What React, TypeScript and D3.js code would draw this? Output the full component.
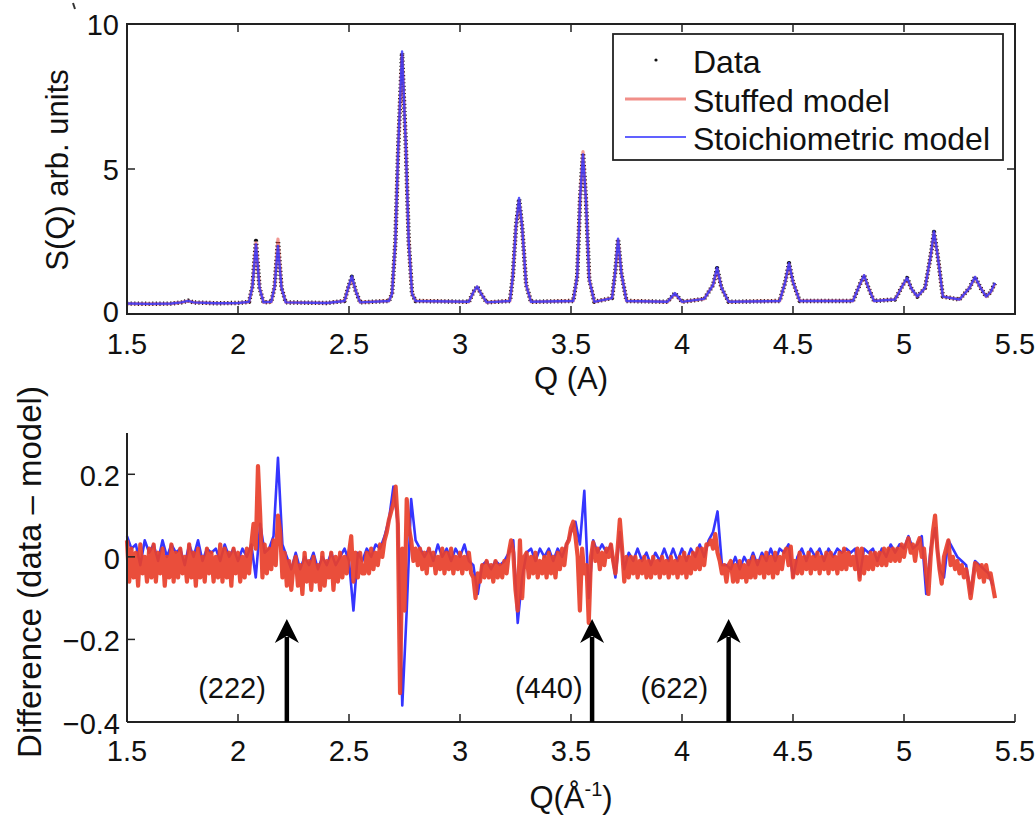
import React from 'react';
import * as d3 from 'd3';

// ---------- Top panel data: S(Q) ----------
const topQ = [
  1.50,1.60,1.70,1.745,1.775,1.80,1.90,2.00,2.05,2.065,
  2.081,2.097,2.115,2.15,2.165,2.18,2.196,2.215,2.40,2.48,
  2.498,2.513,2.53,2.55,2.68,2.694,2.709,2.722,2.739,2.756,
  2.769,2.784,2.80,3.04,3.062,3.077,3.095,3.12,3.225,3.238,
  3.252,3.266,3.28,3.298,3.32,3.51,3.528,3.541,3.554,3.567,
  3.582,3.605,3.685,3.70,3.712,3.727,3.75,3.935,3.968,4.00,
  4.10,4.14,4.158,4.178,4.21,4.44,4.465,4.482,4.50,4.53,
  4.77,4.80,4.82,4.84,4.865,4.96,4.995,5.014,5.035,5.06,
  5.095,5.12,5.135,5.152,5.175,5.25,5.295,5.32,5.345,5.37,
  5.39,5.41,
];
const dataS = [
  .36,.35,.36,.40,.46,.40,.37,.38,.42,.95,
  2.52,.90,.40,.42,.95,2.52,.90,.40,.38,.45,
  .95,1.28,.80,.40,.45,.70,2.5,5.8,9.0,5.8,
  2.5,.70,.45,.42,.78,.95,.70,.40,.45,1.3,
  3.0,3.97,3.0,1.0,.42,.45,1.3,4.0,5.55,4.0,
  1.2,.42,.55,1.5,2.58,1.4,.45,.42,.72,.42,
  .52,1.0,1.58,.90,.42,.45,1.1,1.75,1.1,.45,
  .45,1.0,1.34,.90,.45,.50,1.0,1.24,.85,.60,
  .90,2.0,2.83,2.0,.60,.50,.90,1.28,.90,.60,
  .75,1.07,
];
const stuffedS = [
  .36,.35,.36,.40,.45,.40,.37,.38,.42,.95,
  2.45,.90,.40,.42,.95,2.58,.90,.40,.38,.45,
  .95,1.25,.80,.40,.45,.70,2.5,5.8,8.95,5.8,
  2.5,.70,.45,.42,.78,.93,.70,.40,.45,1.3,
  3.0,3.90,3.0,1.0,.42,.45,1.3,4.0,5.60,4.0,
  1.2,.42,.55,1.5,2.55,1.4,.45,.42,.70,.42,
  .52,1.0,1.55,.90,.42,.45,1.1,1.72,1.1,.45,
  .45,1.0,1.32,.90,.45,.50,1.0,1.22,.85,.60,
  .90,2.0,2.80,2.0,.60,.50,.90,1.26,.90,.60,
  .75,1.05,
];
const stoichS = [
  .36,.35,.36,.40,.45,.40,.37,.38,.42,.95,
  2.40,.90,.40,.42,.95,2.35,.90,.40,.38,.45,
  .95,1.30,.80,.40,.45,.70,2.5,5.8,9.05,5.8,
  2.5,.70,.45,.42,.78,.95,.70,.40,.45,1.3,
  3.0,4.00,3.0,1.0,.42,.45,1.3,4.0,5.50,4.0,
  1.2,.42,.55,1.5,2.60,1.4,.45,.42,.72,.42,
  .52,1.0,1.60,.90,.42,.45,1.1,1.76,1.1,.45,
  .45,1.0,1.34,.90,.45,.50,1.0,1.25,.85,.60,
  .90,2.0,2.85,2.0,.60,.50,.90,1.28,.90,.60,
  .75,1.08,
];

// ---------- Bottom panel data: difference (data - model) ----------
const diffQStart = 1.5;
// Stuffed model difference, every 0.01 from Q = 1.50 to 5.41
const redStep = 0.01;
const redDiff = [
  // 1.50 - 2.05
  .04,-.06,.02,-.05,.01,-.07,.03,-.04,.00,-.06,
  .02,-.05,.03,-.06,.01,-.04,.02,-.07,.00,-.05,
  .03,-.06,.01,-.05,.02,-.04,.00,-.06,.03,-.05,
  .01,-.07,.02,-.05,.00,-.06,.02,-.04,.01,-.06,
  .00,-.05,.03,-.06,.02,-.05,.01,-.07,.02,-.04,
  .01,-.06,.00,-.05,.02,-.04,
  // 2.06 - 2.25
  .03,.08,.02,.22,.10,-.05,.03,-.04,.02,-.03,.04,-.02,.10,.06,-.05,.01,-.07,-.01,-.08,-.02,
  // 2.26 - 2.48
  .00,-.07,-.02,-.09,.01,-.06,-.01,-.08,.00,-.06,
  -.02,-.08,.01,-.07,-.01,-.05,.01,-.08,.00,-.06,
  .01,-.05,.00,
  // 2.49 - 2.56
  -.04,.01,.05,-.06,.01,-.05,.01,-.04,
  // 2.57 - 2.66
  -.04,.01,-.04,.02,-.03,.01,-.02,.03,.00,.04,
  // 2.67 - 2.81
  .06,.09,.11,.13,.17,.08,-.33,.02,-.13,.14,.07,.04,-.01,.02,-.02,
  // 2.82 - 3.05
  .02,-.03,.01,-.04,.02,-.02,.01,-.04,.00,-.03,
  .02,-.04,.01,-.03,.02,-.04,.00,-.03,.01,-.04,
  .00,-.03,.01,-.04,
  // 3.06 - 3.08
  -.05,-.10,-.04,
  // 3.09 - 3.21
  -.06,-.02,-.05,-.01,-.05,-.02,-.06,-.01,-.05,-.02,-.05,-.01,-.04,
  // 3.22 - 3.29
  .01,.04,.01,-.08,-.13,.04,-.10,.00,
  // 3.30 - 3.48
  .01,-.05,.00,-.04,.01,-.05,-.01,-.04,.00,-.05,
  .01,-.04,.00,-.05,.01,-.03,.02,-.02,.03,
  // 3.49 - 3.62
  .04,.07,.085,.05,.00,-.13,.02,-.04,-.02,-.16,.00,.035,-.01,.02,
  // 3.63 - 3.76
  -.03,.01,-.02,.02,.00,.03,-.01,-.04,.02,.09,.02,-.06,.00,-.05,
  // 3.77 - 4.11
  .00,-.04,.00,-.05,-.01,-.04,.00,-.05,-.01,-.05,
  .00,-.04,-.01,-.05,.00,-.04,-.01,-.05,.00,-.04,
  -.01,-.05,.00,-.04,.01,-.05,.00,-.04,.01,-.03,
  .02,-.03,.02,-.02,.03,
  // 4.12 - 4.20
  .03,.04,.02,.055,.01,-.01,-.04,-.02,-.06,
  // 4.21 - 4.46
  -.02,-.01,-.06,-.02,-.06,-.01,-.05,-.02,-.06,-.01,
  -.05,.00,-.05,-.01,-.04,.00,-.05,.01,-.04,.00,
  -.05,.01,-.04,.00,-.03,.01,
  // 4.47 - 4.52
  .02,-.02,.025,-.05,-.01,-.04,
  // 4.53 - 4.77
  .01,-.04,.00,-.03,.01,-.04,.00,-.03,.01,-.04,
  .00,-.03,.01,-.04,.01,-.03,.00,-.04,.01,-.03,
  .02,-.03,.01,-.02,.00,
  // 4.78 - 4.83
  -.03,.02,-.055,.02,-.04,.00,
  // 4.84 - 5.00
  -.03,.01,-.03,.01,-.02,.01,-.02,.02,-.02,.02,
  -.01,.02,-.01,.02,-.01,.03,.00,
  // 5.01 - 5.41
  .03,.045,.01,.03,-.01,.03,.045,.00,.02,-.04,
  -.09,.00,.06,.10,.02,-.03,-.065,.00,.02,.04,
  -.02,.00,-.03,-.01,-.04,-.02,-.05,-.03,-.06,-.10,
  -.06,-.015,-.02,-.05,-.02,-.06,-.02,-.05,-.04,-.07,
  -.10,
];
// Stoichiometric model difference, every 0.02 from Q = 1.50 to 5.40
const blueStep = 0.02;
const blueDiff = [
  .05,.02,.03,-.02,.04,.01,.03,-.01,.04,.00,
  .03,.01,.02,-.02,.03,.00,.04,-.01,.02,.01,
  .02,-.01,.03,.00,.02,-.01,.02,.00,.03,
  -.05,.08,.01,.02,.05,.24,.03,
  .00,-.03,.01,-.03,.00,-.02,.01,-.03,.00,-.02,.01,-.02,.00,.02,-.01,
  -.13,.01,
  -.01,.02,.00,.03,.02,.05,.09,
  .17,.08,-.36,-.13,.14,.04,
  .02,.00,.02,-.01,.03,.00,.02,-.01,.02,.00,.03,-.01,-.02,
  -.09,
  -.02,-.01,-.03,-.01,-.02,-.01,.01,
  .04,-.16,-.05,.01,
  .02,-.01,.02,.00,.02,-.01,.02,.00,.03,
  .06,.085,.03,.16,-.10,.04,
  .01,.03,.01,.03,
  -.05,.06,-.03,
  .01,-.01,.02,-.01,.01,-.02,.01,-.01,.02,-.01,.02,-.01,.02,-.01,.02,.00,.03,.00,.04,
  .06,.11,-.02,-.02,
  -.03,.00,-.03,.00,-.02,.01,-.02,.01,-.01,.02,-.01,.02,.01,
  .03,-.05,
  .00,.02,-.01,.02,.00,.02,-.01,.02,.00,.02,.01,.02,.01,.02,
  -.05,.02,
  .01,.02,-.01,.02,.00,.03,.01,.03,.02,
  .05,.02,.03,.05,-.09,.02,.07,-.03,-.05,.04,
  .02,.00,-.01,-.02,-.09,-.01,-.02,-.03,-.04,-.07,
];

// ---------- Annotations ----------
const arrowQ = [2.22, 3.595, 4.21];
const arrowLabels = ['(222)', '(440)', '(622)'];
const arrowLabelQ = [1.973, 3.40, 3.965];

// ---------- Axes ----------
const xTicks = [1.5, 2, 2.5, 3, 3.5, 4, 4.5, 5, 5.5];
const xTickLabels = ['1.5', '2', '2.5', '3', '3.5', '4', '4.5', '5', '5.5'];
const yTopTicks = [0, 5, 10];
const yBotTicks = [0.2, 0, -0.2, -0.4];
const yBotTickLabels = ['0.2', '0', '\u22120.2', '\u22120.4'];

const legendItems = ['Data', 'Stuffed model', 'Stoichiometric model'];

const FONT = '"Liberation Sans", Arial, Helvetica, sans-serif';

export default function App() {
  const x = d3.scaleLinear().domain([1.5, 5.5]).range([127, 1015]);
  const yT = d3.scaleLinear().domain([0, 10]).range([314, 24]);
  const yB = d3.scaleLinear().domain([-0.4, 0.3]).range([722, 433]);

  const topLine = (vals: number[]) =>
    d3.line<number>().x((_, i) => x(topQ[i])).y((d) => yT(d))(vals) || '';
  const diffLine = (vals: number[], step: number) =>
    d3.line<number>().x((_, i) => x(diffQStart + i * step)).y((d) => yB(d))(vals) || '';

  const axisColor = '#222';
  const tickLen = 8;

  return (
    <svg width={1036} height={818} style={{ position: 'absolute', left: 0, top: 0, background: '#fff' }} fontFamily={FONT}>
      <rect x={0} y={0} width={1036} height={818} fill="#fff" />
      <line x1={73} y1={3} x2={75} y2={9} stroke="#333" strokeWidth={2} />

      {/* ============ TOP PANEL ============ */}
      <g>
        <path d={topLine(dataS)} fill="none" stroke="#111" strokeWidth={4.4} strokeDasharray="1.2 2.4" strokeLinejoin="round" />
        <path d={topLine(stuffedS)} fill="none" stroke="#e8443a" strokeWidth={3.2} strokeOpacity={0.55} strokeLinejoin="round" />
        <path d={topLine(stoichS)} fill="none" stroke="#3a3aff" strokeWidth={2.4} strokeOpacity={0.85} strokeLinejoin="round" />
        <rect x={x(1.5)} y={yT(10)} width={x(5.5) - x(1.5)} height={yT(0) - yT(10)} fill="none" stroke={axisColor} strokeWidth={2} />
        {xTicks.map((t, i) => (
          <g key={'xt' + i}>
            <line x1={x(t)} x2={x(t)} y1={yT(0)} y2={yT(0) - tickLen} stroke={axisColor} strokeWidth={1.5} />
            <line x1={x(t)} x2={x(t)} y1={yT(10)} y2={yT(10) + tickLen} stroke={axisColor} strokeWidth={1.5} />
            <text x={x(t)} y={yT(0) + 40} textAnchor="middle" fontSize={29} fill="#111">{xTickLabels[i]}</text>
          </g>
        ))}
        {yTopTicks.map((t, i) => (
          <g key={'yt' + i}>
            <line x1={x(1.5)} x2={x(1.5) + tickLen} y1={yT(t)} y2={yT(t)} stroke={axisColor} strokeWidth={1.5} />
            <line x1={x(5.5)} x2={x(5.5) - tickLen} y1={yT(t)} y2={yT(t)} stroke={axisColor} strokeWidth={1.5} />
            <text x={119} y={yT(t) + (t === 0 ? 8 : 11)} textAnchor="end" fontSize={29} fill="#111">{String(t)}</text>
          </g>
        ))}
        <text transform={`translate(68,170) rotate(-90)`} textAnchor="middle" fontSize={31} fill="#111">S(Q) arb. units</text>
        <text x={571} y={389} textAnchor="middle" fontSize={31} fill="#111">Q (A)</text>

        {/* legend */}
        <rect x={613} y={34} width={390} height={126} fill="#fff" stroke={axisColor} strokeWidth={1.8} />
        <circle cx={656} cy={60} r={1.6} fill="#111" />
        <line x1={625} x2={686} y1={99} y2={99} stroke="#e8443a" strokeOpacity={0.6} strokeWidth={3.2} />
        <line x1={625} x2={686} y1={137} y2={137} stroke="#3a3aff" strokeOpacity={0.8} strokeWidth={2} />
        {legendItems.map((s, i) => (
          <text key={'lg' + i} x={693} y={73 + i * 38.5} fontSize={32} fill="#111">{s}</text>
        ))}
      </g>

      {/* ============ BOTTOM PANEL ============ */}
      <g>
        <path d={diffLine(blueDiff, blueStep)} fill="none" stroke="#3535ff" strokeWidth={2.6} strokeLinejoin="round" />
        <path d={diffLine(redDiff, redStep)} fill="none" stroke="#e8412c" strokeWidth={4.2} strokeOpacity={0.93} strokeLinejoin="round" />

        <line x1={x(1.5)} x2={x(1.5)} y1={yB(0.3)} y2={yB(-0.4)} stroke={axisColor} strokeWidth={2} />
        <line x1={x(1.5)} x2={x(5.5)} y1={yB(-0.4)} y2={yB(-0.4)} stroke={axisColor} strokeWidth={2} />
        {xTicks.map((t, i) => (
          <g key={'bxt' + i}>
            <line x1={x(t)} x2={x(t)} y1={yB(-0.4)} y2={yB(-0.4) - tickLen} stroke={axisColor} strokeWidth={1.5} />
            <text x={x(t)} y={yB(-0.4) + 39} textAnchor="middle" fontSize={29} fill="#111">{xTickLabels[i]}</text>
          </g>
        ))}
        {yBotTicks.map((t, i) => (
          <g key={'byt' + i}>
            <line x1={x(1.5)} x2={x(1.5) + tickLen} y1={yB(t)} y2={yB(t)} stroke={axisColor} strokeWidth={1.5} />
            <text x={120} y={yB(t) + 12} textAnchor="end" fontSize={29} fill="#111">{yBotTickLabels[i]}</text>
          </g>
        ))}
        <text transform={`translate(41,572) rotate(-90)`} textAnchor="middle" fontSize={33} fill="#111">Difference (data – model)</text>
        <text x={571} y={808} textAnchor="middle" fontSize={31} fill="#111">
          Q(Å<tspan fontSize={20} dy={-12}>-1</tspan><tspan dy={12}>)</tspan>
        </text>

        {arrowQ.map((q, i) => {
          const ax = x(q);
          const base = yB(-0.4);
          const tip = 619;
          return (
            <g key={'ar' + i}>
              <line x1={ax} x2={ax} y1={base} y2={tip + 18} stroke="#000" strokeWidth={4.5} />
              <path d={`M${ax},${tip} L${ax + 12},${tip + 24} L${ax},${tip + 17} L${ax - 12},${tip + 24} Z`} fill="#000" />
              <text x={x(arrowLabelQ[i])} y={698} textAnchor="middle" fontSize={29} fill="#111">{arrowLabels[i]}</text>
            </g>
          );
        })}
      </g>
    </svg>
  );
}
